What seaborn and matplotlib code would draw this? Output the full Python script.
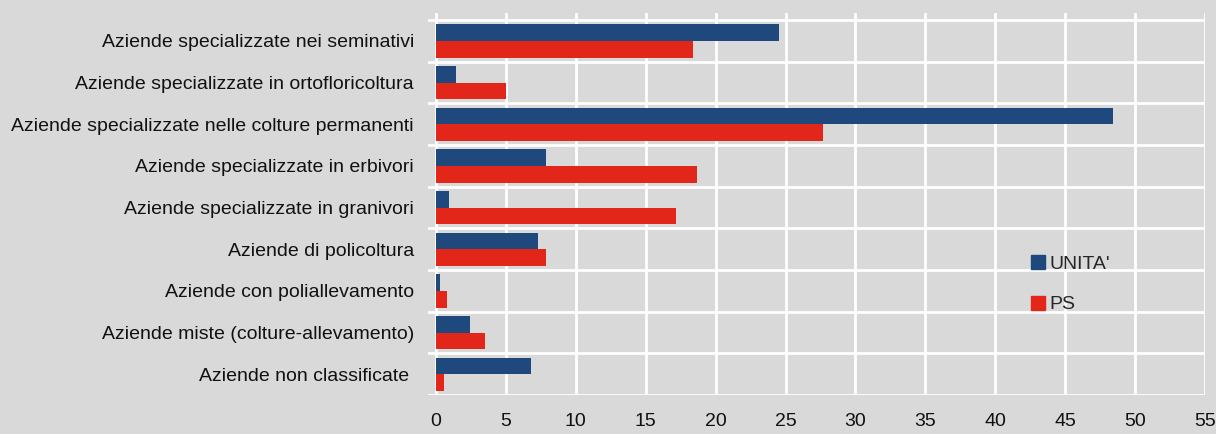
import pandas as pd
import matplotlib
matplotlib.use('Agg')
import matplotlib.pyplot as plt
import seaborn as sns
from matplotlib.lines import Line2D

categories = [
    'Aziende specializzate nei seminativi',
    'Aziende specializzate in ortofloricoltura',
    'Aziende specializzate nelle colture permanenti',
    'Aziende specializzate in erbivori',
    'Aziende specializzate in granivori',
    'Aziende di policoltura',
    'Aziende con poliallevamento',
    'Aziende miste (colture-allevamento)',
    'Aziende non classificate ',
]
unita = [24.5, 1.4, 48.4, 7.9, 0.9, 7.3, 0.3, 2.4, 6.8]
ps = [18.4, 5.0, 27.7, 18.7, 17.2, 7.9, 0.8, 3.5, 0.6]
series = ["UNITA'", 'PS']
ticks = list(range(0, 56, 5))

df = pd.DataFrame({
    'cat': categories * 2,
    'val': unita + ps,
    'serie': [series[0]] * len(unita) + [series[1]] * len(ps),
})

sns.set_style('white')
plt.rcParams['font.family'] = ['Liberation Sans', 'DejaVu Sans']
bg = '#d9d9d9'
colors = ['#1f497d', '#e3261a']

fig = plt.figure(figsize=(12.16, 4.34), dpi=100, facecolor=bg)
ax = fig.add_axes([428 / 1216, 1 - 395 / 434, (1205 - 428) / 1216, (395 - 13) / 434])
ax.set_facecolor(bg)
ax.set_axisbelow(True)

for t in ticks:
    ax.axvline(t, color='white', lw=2, zorder=0)
for i in range(len(categories) + 1):
    ax.axhline(i - 0.5, color='white', lw=2, zorder=0)

sns.barplot(data=df, x='val', y='cat', hue='serie', orient='h', palette=colors,
            saturation=1, width=0.8, ax=ax, legend=False, edgecolor='none', zorder=3)

ax.set_xlim(-0.57, 55)
ax.set_ylim(len(categories) - 0.5, -0.5 - 0.17)
ax.set_xticks(ticks)
ax.set_xticklabels([str(t) for t in ticks])
ax.tick_params(axis='x', length=0, pad=13, labelsize=14, colors='#111111')
ax.tick_params(axis='y', length=0, pad=10, labelsize=14, colors='#111111')
ax.set_xlabel('')
ax.set_ylabel('')
for s in ax.spines.values():
    s.set_visible(False)

handles = [Line2D([], [], marker='s', ls='', color=c, markersize=10) for c in colors]
ax.legend(handles, series, loc='center left', bbox_to_anchor=(0.75, 0.29),
          frameon=False, fontsize=14, handletextpad=0.1, labelspacing=1.2,
          handlelength=1.0)

fig.savefig('out.png', dpi=100, facecolor=bg)
